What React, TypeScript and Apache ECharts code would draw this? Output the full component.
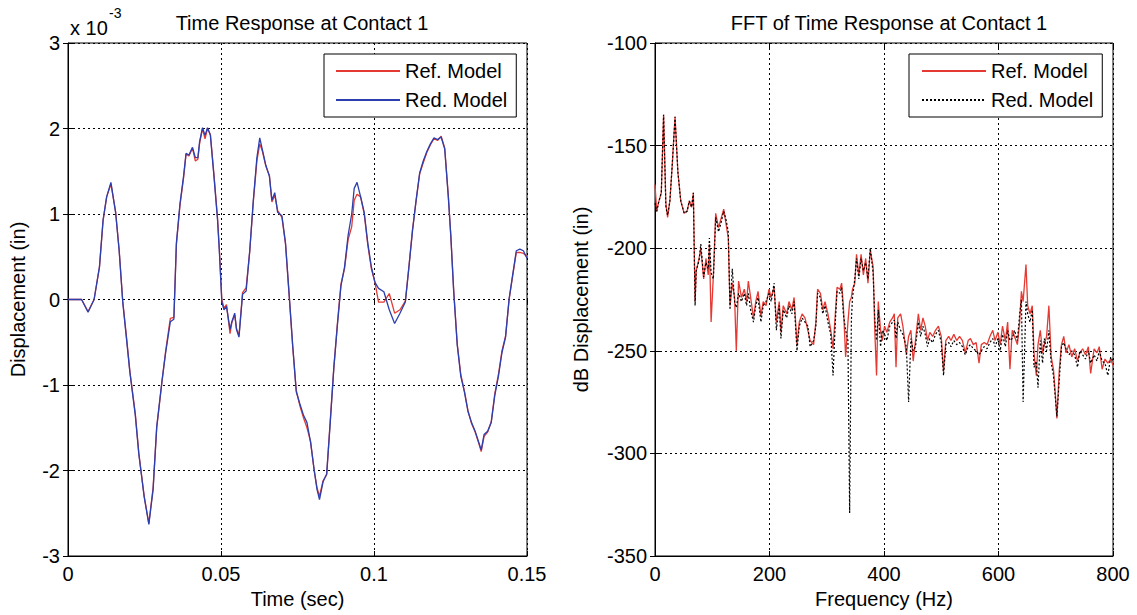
import React, { useEffect, useRef } from "react";
import * as echarts from "echarts";

// ---------- Left plot: time response (displacement in units of 1e-3 in) ----------
const timeSec = [
  0, 0.00444, 0.00655, 0.00853, 0.01029, 0.01146, 0.01263, 0.01403, 0.01555, 0.01672,
  0.01789, 0.01906, 0.02022, 0.02198, 0.02315, 0.0249, 0.02642, 0.02782, 0.02899, 0.03075,
  0.03192, 0.03344, 0.0346, 0.03542, 0.03659, 0.03776, 0.03858, 0.03952, 0.04068, 0.04162,
  0.04244, 0.04302, 0.04396, 0.04478, 0.04559, 0.04653, 0.0477, 0.04887, 0.04945, 0.05027,
  0.05097, 0.05179, 0.05296, 0.05354, 0.05448, 0.05506, 0.05588, 0.05705, 0.05822, 0.05939,
  0.06056, 0.06173, 0.06266, 0.06348, 0.06465, 0.06582, 0.06664, 0.06757, 0.06851, 0.06991,
  0.07108, 0.07225, 0.07342, 0.07459, 0.07576, 0.07693, 0.0781, 0.07927, 0.08044, 0.08137,
  0.08219, 0.08336, 0.08453, 0.0857, 0.08687, 0.08804, 0.0892, 0.09037, 0.09154, 0.09271,
  0.09353, 0.09446, 0.09563, 0.0968, 0.09797, 0.09914, 0.10031, 0.10148, 0.10323, 0.10499,
  0.10674, 0.10849, 0.11024, 0.11141, 0.11258, 0.11375, 0.11492, 0.11609, 0.11726, 0.11843,
  0.1196, 0.12077, 0.12194, 0.12311, 0.12428, 0.1251, 0.12603, 0.1272, 0.12837, 0.12954,
  0.13071, 0.13188, 0.13305, 0.13422, 0.13504, 0.13597, 0.13714, 0.13831, 0.13948, 0.14065,
  0.14182, 0.14299, 0.14416, 0.14533, 0.1465, 0.14766, 0.14883, 0.15,
];

const redModelDisp = [
  0, 0, -0.15, 0, 0.385, 0.93, 1.2, 1.37, 1.02, 0.57,
  -0.03, -0.44, -0.85, -1.35, -1.81, -2.31, -2.63, -2.22, -1.49, -0.94,
  -0.62, -0.26, -0.23, 0.66, 1.12, 1.44, 1.71, 1.69, 1.78, 1.66,
  1.66, 1.85, 2.01, 1.92, 2.01, 1.92, 1.44, 0.93, 0.57, -0.03,
  -0.12, -0.08, -0.35, -0.26, -0.16, -0.35, -0.44, 0.06, 0.1, 0.57,
  1.16, 1.66, 1.89, 1.76, 1.57, 1.44, 1.16, 1.25, 1.02, 0.98,
  0.66, 0.07, -0.53, -1.08, -1.22, -1.35, -1.44, -1.67, -1.99, -2.22,
  -2.34, -2.13, -2.04, -1.44, -0.8, -0.3, 0.16, 0.38, 0.75, 1.0,
  1.3, 1.37, 1.2, 1.02, 0.66, 0.38, 0.2, 0.13, 0.09, -0.12,
  -0.28, -0.16, -0.03, 0.38, 0.8, 1.16, 1.48, 1.62, 1.73, 1.82,
  1.89, 1.87, 1.9, 1.76, 1.2, 0.75, 0.1, -0.53, -0.9, -1.08,
  -1.31, -1.44, -1.54, -1.67, -1.76, -1.58, -1.54, -1.44, -1.12, -0.9,
  -0.62, -0.44, 0.01, 0.29, 0.57, 0.59, 0.57, 0.48,
];

const refModelDisp = [
  0, 0, -0.14, 0, 0.38, 0.92, 1.2, 1.35, 1.03, 0.58,
  -0.02, -0.42, -0.84, -1.33, -1.8, -2.3, -2.62, -2.2, -1.5, -0.95,
  -0.6, -0.22, -0.21, 0.64, 1.1, 1.42, 1.7, 1.68, 1.77, 1.62,
  1.64, 1.83, 2.0, 1.88, 2.0, 1.93, 1.46, 0.95, 0.6, 0.0,
  -0.1, -0.06, -0.4, -0.27, -0.18, -0.34, -0.42, 0.08, 0.14, 0.56,
  1.14, 1.62, 1.82, 1.74, 1.56, 1.45, 1.14, 1.22, 1.04, 0.96,
  0.65, 0.06, -0.55, -1.06, -1.24, -1.38, -1.5, -1.66, -2.0, -2.2,
  -2.3, -2.12, -2.05, -1.42, -0.8, -0.28, 0.18, 0.36, 0.7, 0.85,
  1.16, 1.23, 1.2, 1.0, 0.64, 0.36, 0.2, -0.03, -0.03, 0.07,
  -0.16, -0.12, -0.02, 0.38, 0.82, 1.15, 1.47, 1.6, 1.72, 1.81,
  1.88, 1.86, 1.91, 1.77, 1.22, 0.74, 0.12, -0.52, -0.88, -1.07,
  -1.3, -1.45, -1.55, -1.68, -1.78, -1.6, -1.55, -1.43, -1.1, -0.88,
  -0.6, -0.43, 0.0, 0.28, 0.55, 0.55, 0.54, 0.5,
];

// ---------- Right plot: FFT (dB) ----------
const freqHz = [
  0, 3, 6, 11, 15, 19, 22, 26, 30, 35,
  40, 45, 51, 56, 60, 64, 67, 70, 72, 77,
  80, 85, 89, 93, 95, 98, 102, 106, 111, 115,
  120, 124, 128, 131, 135, 139, 142, 146, 151, 156,
  160, 163, 167, 172, 176, 180, 185, 189, 194, 199,
  203, 208, 212, 217, 220, 224, 230, 234, 239, 243,
  248, 252, 257, 262, 267, 271, 277, 281, 284, 289,
  293, 297, 302, 307, 311, 315, 318, 323, 326, 329,
  333, 337, 340, 343, 345, 349, 352, 356, 360, 364,
  368, 372, 376, 381, 384, 387, 390, 394, 397, 401,
  405, 410, 415, 418, 421, 424, 429, 433, 439, 443,
  447, 451, 455, 460, 464, 468, 472, 476, 480, 485,
  490, 495, 500, 504, 508, 513, 517, 522, 527, 532,
  537, 542, 547, 551, 556, 561, 566, 570, 575, 580,
  585, 590, 594, 599, 603, 607, 612, 616, 620, 624,
  628, 633, 637, 640, 643, 648, 651, 655, 659, 662,
  666, 669, 673, 677, 680, 684, 688, 692, 696, 699,
  702, 706, 710, 714, 718, 723, 728, 733, 738, 742,
  747, 752, 757, 761, 767, 772, 776, 781, 786, 791,
  796, 800,
];

const refModelDb = [
  -169, -182, -178, -173, -135, -178, -185, -177, -160, -136,
  -163, -177, -183, -182, -177, -180, -173, -226, -211, -205,
  -200, -215, -205, -213, -198, -236, -213, -183, -190, -186,
  -181, -188, -195, -228, -217, -224, -250, -216, -224, -220,
  -226, -216, -224, -234, -226, -221, -233, -226, -228, -220,
  -224, -219, -236, -226, -241, -228, -232, -226, -230, -224,
  -247, -236, -232, -234, -240, -245, -247, -236, -220, -222,
  -230, -226, -232, -240, -249, -232, -219, -220, -217, -228,
  -253, -236, -226, -224, -220, -217, -203, -213, -203, -213,
  -205, -217, -201, -209, -241, -262, -226, -240, -245, -238,
  -241, -236, -234, -232, -258, -234, -232, -238, -252, -243,
  -240, -255, -245, -232, -240, -234, -238, -245, -241, -243,
  -240, -238, -243, -260, -245, -243, -245, -242, -245, -243,
  -245, -251, -245, -244, -247, -246, -256, -247, -246, -247,
  -243, -240, -245, -241, -247, -238, -245, -236, -259, -240,
  -243, -247, -236, -221, -226, -208, -228, -232, -228, -251,
  -262, -247, -240, -251, -247, -243, -228, -253, -259, -270,
  -283, -260, -247, -243, -251, -247, -253, -249, -255, -251,
  -249, -252, -248, -261, -249, -251, -248, -259, -254, -256,
  -254, -257,
];

const redModelDb = [
  -178, -182, -178, -173, -135, -180, -184, -177, -160, -136,
  -163, -177, -183, -182, -177, -180, -173, -228, -211, -206,
  -198, -214, -207, -210, -195, -212, -215, -185, -192, -188,
  -182, -186, -192, -230, -210, -226, -229, -222, -226, -222,
  -228, -222, -230, -236, -228, -224, -236, -228, -226, -222,
  -226, -217, -240, -228, -244, -230, -234, -228, -232, -226,
  -250, -238, -234, -236, -238, -248, -245, -238, -222, -224,
  -232, -228, -236, -242, -262, -236, -221, -222, -219, -232,
  -240, -245, -329, -235, -224, -215, -205, -215, -205, -211,
  -207, -215, -200, -212, -235, -245, -230, -248, -240, -242,
  -245, -238, -236, -235, -244, -236, -240, -242, -248, -275,
  -244, -250, -248, -236, -243, -238, -242, -248, -244, -246,
  -242, -240, -246, -262, -247, -246, -248, -245, -247, -246,
  -248, -252, -248, -247, -249, -250, -252, -250, -248, -249,
  -246, -244, -248, -244, -250, -242, -248, -240, -245, -244,
  -240, -245, -232, -225, -275, -226, -232, -236, -230, -258,
  -255, -268, -245, -256, -244, -250, -240, -256, -262, -272,
  -282, -265, -248, -246, -249, -252, -250, -252, -258, -250,
  -252, -254, -250, -256, -252, -255, -250, -255, -256, -262,
  -253, -255,
];

const timeTicks = { min: 0, max: 0.15, interval: 0.05 };
const dispTicks = { min: -3, max: 3, interval: 1 };
const freqTicks = { min: 0, max: 800, interval: 200 };
const dbTicks = { min: -350, max: -100, interval: 50 };

const FONT = "'Liberation Sans', Arial, Helvetica, sans-serif";

function makeAxes(gridIndex: number, xt: any, yt: any, xName: string, yName: string, yNameGap: number) {
  const gridLine = { show: true, lineStyle: { color: "#000", width: 1, type: [2, 3] } };
  const tick = { show: true, inside: true, length: 5, lineStyle: { color: "#000" } };
  const label = { color: "#000", fontSize: 20, fontFamily: FONT, margin: 8 };
  const x = [
    {
      type: "value", gridIndex, position: "bottom", ...xt,
      name: xName, nameLocation: "middle", nameGap: 33,
      nameTextStyle: { color: "#000", fontSize: 20, fontFamily: FONT },
      axisLine: { show: true, onZero: false, lineStyle: { color: "#000" } },
      axisTick: tick, axisLabel: label, splitLine: gridLine,
    },
    {
      type: "value", gridIndex, position: "top", ...xt,
      axisLine: { show: false }, axisTick: tick, axisLabel: { show: false }, splitLine: { show: false },
    },
  ];
  const y = [
    {
      type: "value", gridIndex, position: "left", ...yt,
      name: yName, nameLocation: "middle", nameGap: yNameGap,
      nameTextStyle: { color: "#000", fontSize: 20, fontFamily: FONT },
      axisLine: { show: true, onZero: false, lineStyle: { color: "#000" } },
      axisTick: tick, axisLabel: label, splitLine: gridLine,
    },
    {
      type: "value", gridIndex, position: "right", ...yt,
      axisLine: { show: false }, axisTick: tick, axisLabel: { show: false }, splitLine: { show: false },
    },
  ];
  return { x, y };
}

export default function App() {
  const ref = useRef<HTMLDivElement>(null);
  useEffect(() => {
    if (!ref.current) return;
    const chart = echarts.init(ref.current, undefined, { renderer: "svg" });
    const a1 = makeAxes(0, timeTicks, dispTicks, "Time (sec)", "Displacement (in)", 40);
    const a2 = makeAxes(1, freqTicks, dbTicks, "Frequency (Hz)", "dB Displacement (in)", 64);
    const legendBase = {
      orient: "vertical",
      top: 54,
      backgroundColor: "#fff",
      borderColor: "#000",
      borderWidth: 1,
      borderRadius: 0,
      itemWidth: 64,
      itemHeight: 20,
      itemGap: 9,
      itemStyle: { opacity: 0, borderWidth: 0 },
      textStyle: { color: "#000", fontSize: 20, fontFamily: FONT },
      selectedMode: false,
    };
    chart.setOption({
      animation: false,
      backgroundColor: "#fff",
      title: [
        {
          text: "Time Response at Contact 1", left: 297, top: 8, textAlign: "center",
          textStyle: { color: "#000", fontSize: 20, fontWeight: "normal", fontFamily: FONT },
        },
        {
          text: "FFT of Time Response at Contact 1", left: 884, top: 8, textAlign: "center",
          textStyle: { color: "#000", fontSize: 20, fontWeight: "normal", fontFamily: FONT },
        },
      ],
      grid: [
        { left: 68, top: 43, width: 459, height: 513, show: true, borderColor: "#000", borderWidth: 1, backgroundColor: "#fff" },
        { left: 655, top: 43, width: 458, height: 513, show: true, borderColor: "#000", borderWidth: 1, backgroundColor: "#fff" },
      ],
      xAxis: [...a1.x, ...a2.x],
      yAxis: [...a1.y, ...a2.y],
      legend: [
        {
          ...legendBase, left: 324, padding: [7, 9, 7, 11],
          data: ["Ref. Model", "Red. Model"],
        },
        {
          ...legendBase, left: 909, padding: [7, 9, 7, 12],
          data: ["Ref. Model FFT", "Red. Model FFT"],
          formatter: (n: string) => n.replace(" FFT", ""),
        },
      ],
      graphic: [
        {
          type: "text", left: 70, top: 18,
          style: { text: "x 10", fontSize: 20, fontFamily: FONT, fill: "#000" },
        },
        {
          type: "text", left: 109, top: 6,
          style: { text: "-3", fontSize: 14, fontFamily: FONT, fill: "#000" },
        },
      ],
      series: [
        {
          name: "Ref. Model", type: "line", xAxisIndex: 0, yAxisIndex: 0, symbol: "none",
          data: timeSec.map((t, i) => [t, refModelDisp[i]]),
          lineStyle: { color: "#e53a33", width: 1.3 }, itemStyle: { color: "#e53a33" }, z: 2,
        },
        {
          name: "Red. Model", type: "line", xAxisIndex: 0, yAxisIndex: 0, symbol: "none",
          data: timeSec.map((t, i) => [t, redModelDisp[i]]),
          lineStyle: { color: "#2b3fae", width: 1.3 }, itemStyle: { color: "#2b3fae" }, z: 3,
        },
        {
          name: "Ref. Model FFT", type: "line", xAxisIndex: 2, yAxisIndex: 2, symbol: "none",
          data: freqHz.map((f, i) => [f, refModelDb[i]]),
          lineStyle: { color: "#e53a33", width: 1.3 }, itemStyle: { color: "#e53a33" }, z: 2,
        },
        {
          name: "Red. Model FFT", type: "line", xAxisIndex: 2, yAxisIndex: 2, symbol: "none",
          data: freqHz.map((f, i) => [f, redModelDb[i]]),
          lineStyle: { color: "#000", width: 1.2, type: [2, 2] }, itemStyle: { color: "#000" }, z: 3,
        },
      ],
    });
    return () => chart.dispose();
  }, []);
  return <div ref={ref} style={{ position: "fixed", left: 0, top: 0, width: 1137, height: 615 }} />;
}
